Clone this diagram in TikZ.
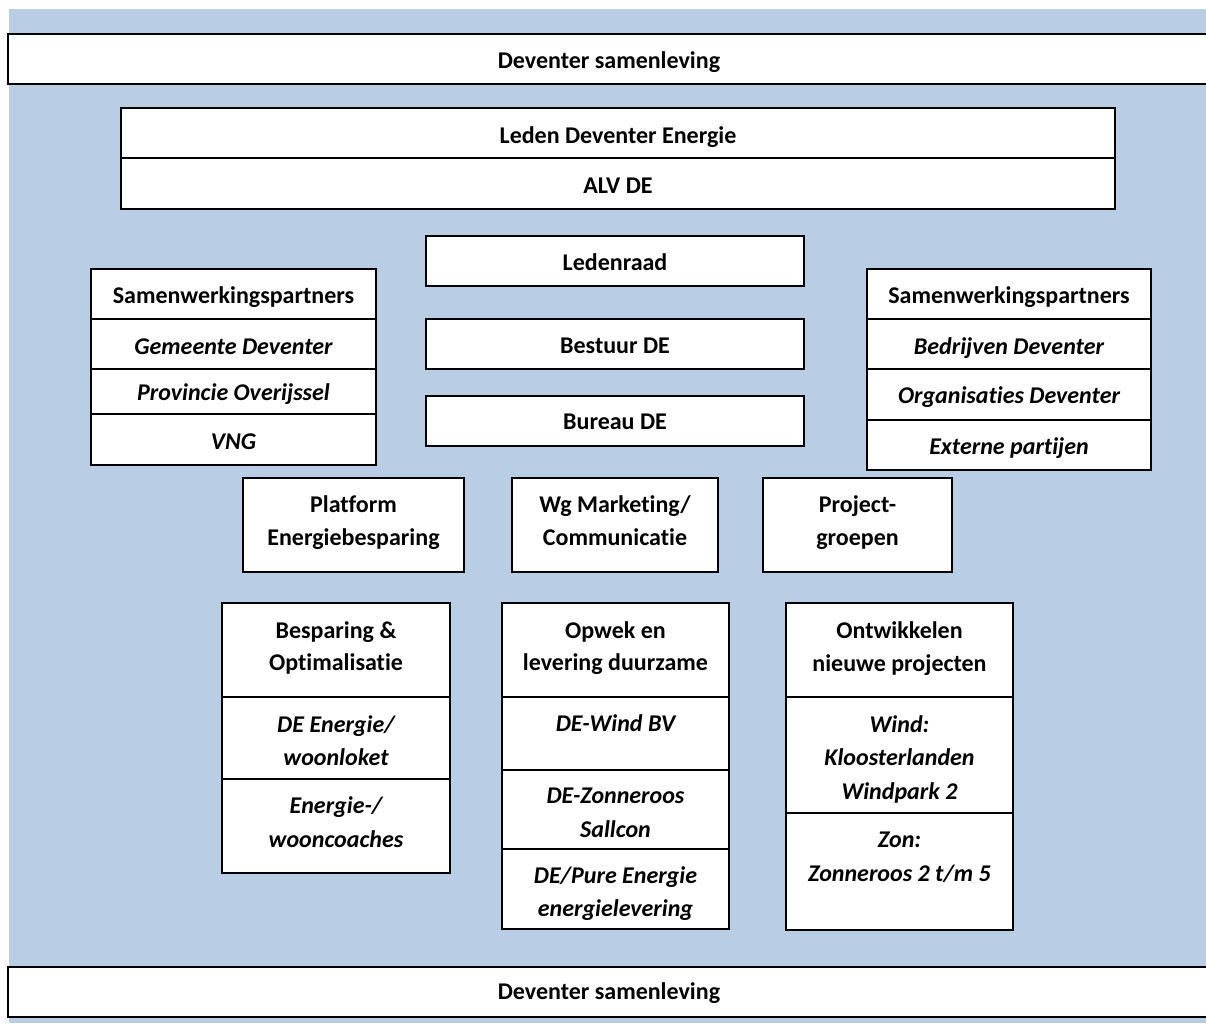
\documentclass[tikz,border=0pt]{standalone}
\usepackage{fontspec}
\setmainfont{Carlito}[Ligatures=NoCommon]
\definecolor{bgblue}{RGB}{185,205,228}
\begin{document}
\begin{tikzpicture}[x=1pt,y=-1pt,
  box/.style={draw=black, line width=1.8pt, fill=white, inner sep=0pt, outer sep=0pt},
  txt/.style={font=\fontsize{24}{33}\selectfont\bfseries, anchor=base, inner sep=0pt},
  itx/.style={font=\fontsize{24}{33}\selectfont\bfseries\itshape, anchor=base, inner sep=0pt}]
\useasboundingbox (0,0) rectangle (1206,1023);
\fill[bgblue] (9,9) rectangle (1206,1023);
% bars
\node[box, minimum width=1207pt, minimum height=50pt] (topbar) at (611.5,59) {};
\node[txt] (ttop) at (609,68) {Deventer samenleving};
\node[box, minimum width=1207pt, minimum height=50pt] (botbar) at (611.5,992) {};
\node[txt] (tbot) at (609,999) {Deventer samenleving};
% leden
\node[box, minimum width=994pt, minimum height=50pt] (leden) at (618,133) {};
\node[box, minimum width=994pt, minimum height=51pt] (alv) at (618,183.5) {};
\node[txt] (tleden) at (618,143) {Leden Deventer Energie};
\node[txt] (talv) at (618,193) {ALV DE};
% centre column
\node[box, minimum width=378pt, minimum height=50pt] (raad) at (615,261) {};
\node[txt] (traad) at (615,270) {Ledenraad};
\node[box, minimum width=378pt, minimum height=50pt] (bestuur) at (615,344) {};
\node[txt] (tbestuur) at (615,353) {Bestuur DE};
\node[box, minimum width=378pt, minimum height=50pt] (bureau) at (615,421) {};
\node[txt] (tbureau) at (615,429) {Bureau DE};
% left partners
\node[box, minimum width=285pt, minimum height=50pt] (lp1) at (233.5,294) {};
\node[box, minimum width=285pt, minimum height=50pt] (lp2) at (233.5,344) {};
\node[box, minimum width=285pt, minimum height=45pt] (lp3) at (233.5,391.5) {};
\node[box, minimum width=285pt, minimum height=51pt] (lp4) at (233.5,439.5) {};
\node[txt] (tlp1) at (233.5,303) {Samenwerkingspartners};
\node[itx] (tlp2) at (233.5,354) {Gemeente Deventer};
\node[itx] (tlp3) at (233.5,400) {Provincie Overijssel};
\node[itx] (tlp4) at (233.5,449) {VNG};
% right partners
\node[box, minimum width=284pt, minimum height=50pt] (rp1) at (1009,294) {};
\node[box, minimum width=284pt, minimum height=50pt] (rp2) at (1009,344) {};
\node[box, minimum width=284pt, minimum height=51pt] (rp3) at (1009,394.5) {};
\node[box, minimum width=284pt, minimum height=50pt] (rp4) at (1009,445) {};
\node[txt] (trp1) at (1009,303) {Samenwerkingspartners};
\node[itx] (trp2) at (1009,354) {Bedrijven Deventer};
\node[itx] (trp3) at (1009,403) {Organisaties Deventer};
\node[itx] (trp4) at (1009,454) {Externe partijen};
% working groups
\node[box, minimum width=221pt, minimum height=94pt] (plat) at (353.5,525) {};
\node[txt] (tplat1) at (353.5,512) {Platform};
\node[txt] (tplat2) at (353.5,545) {Energiebesparing};
\node[box, minimum width=206pt, minimum height=94pt] (wg) at (615,525) {};
\node[txt] (twg1) at (615,512) {Wg Marketing/};
\node[txt] (twg2) at (615,545) {Communicatie};
\node[box, minimum width=189pt, minimum height=94pt] (proj) at (857.5,525) {};
\node[txt] (tproj1) at (857.5,512) {Project-};
\node[txt] (tproj2) at (857.5,545) {groepen};
% Besparing column
\node[box, minimum width=228pt, minimum height=94pt] (b1) at (336,650) {};
\node[box, minimum width=228pt, minimum height=82pt] (b2) at (336,738) {};
\node[box, minimum width=228pt, minimum height=94pt] (b3) at (336,826) {};
\node[txt] (tb1a) at (336,638) {Besparing \&};
\node[txt] (tb1b) at (336,670) {Optimalisatie};
\node[itx] (tb2a) at (336,732) {DE Energie/};
\node[itx] (tb2b) at (336,765) {woonloket};
\node[itx] (tb3a) at (336,813) {Energie-/};
\node[itx] (tb3b) at (336,847) {wooncoaches};
% Opwek column
\node[box, minimum width=227pt, minimum height=94pt] (o1) at (615.5,650) {};
\node[box, minimum width=227pt, minimum height=73pt] (o2) at (615.5,733.5) {};
\node[box, minimum width=227pt, minimum height=79pt] (o3) at (615.5,809.5) {};
\node[box, minimum width=227pt, minimum height=80pt] (o4) at (615.5,889) {};
\node[txt] (to1a) at (615.5,638) {Opwek en};
\node[txt] (to1b) at (615.5,670) {levering duurzame};
\node[itx] (to2) at (615.5,731) {DE-Wind BV};
\node[itx] (to3a) at (615.5,803) {DE-Zonneroos};
\node[itx] (to3b) at (615.5,837) {Sallcon};
\node[itx] (to4a) at (615.5,883) {DE/Pure Energie};
\begin{scope}
\clip (502,849) rectangle (729,928);
\node[itx] (to4b) at (615.5,916) {energielevering};
\end{scope}
\draw[line width=1.8pt] (o4.south west) -- (o4.south east);
% Ontwikkelen column
\node[box, minimum width=227pt, minimum height=94pt] (n1) at (899.5,650) {};
\node[box, minimum width=227pt, minimum height=116pt] (n2) at (899.5,755) {};
\node[box, minimum width=227pt, minimum height=117pt] (n3) at (899.5,871.5) {};
\node[txt] (tn1a) at (899.5,638) {Ontwikkelen};
\node[txt] (tn1b) at (899.5,671) {nieuwe projecten};
\node[itx] (tn2a) at (899.5,732) {Wind:};
\node[itx] (tn2b) at (899.5,765) {Kloosterlanden};
\node[itx] (tn2c) at (899.5,799) {Windpark 2};
\node[itx] (tn3a) at (899.5,847) {Zon:};
\node[itx] (tn3b) at (899.5,881) {Zonneroos 2 t/m 5};
\end{tikzpicture}
\end{document}
